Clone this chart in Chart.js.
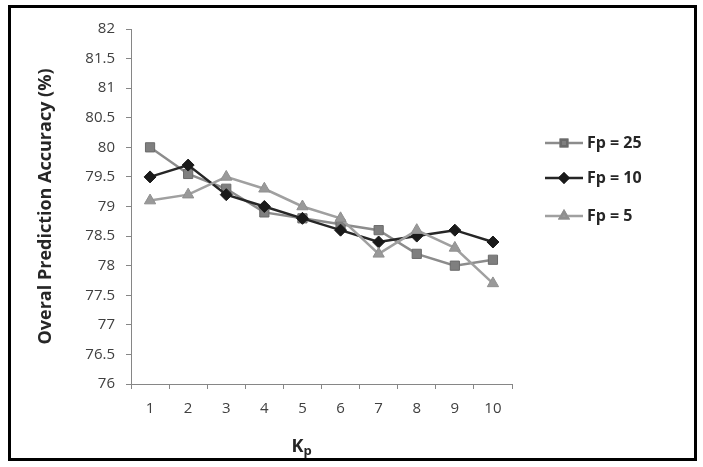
<!DOCTYPE html>
<html lang="en">
<head>
    <meta charset="UTF-8">
    <title>Overal Prediction Accuracy</title>
    <script src="https://cdn.jsdelivr.net/npm/chart.js"></script>
    <style>
        body {
            margin: 0;
            background: #fff;
        }

        /* black frame round the whole chart */
        .chart-box {
            position: absolute;
            left: 8px;
            top: 5px;
            width: 683px;
            height: 450px;
            border: 3px solid #000;
        }
    </style>
</head>
<body>
    <div class="chart-box">
        <canvas id="accChart" width="683" height="450"></canvas>
    </div>

    <script>
        // data
        const kpLabels = ['1', '2', '3', '4', '5', '6', '7', '8', '9', '10'];
        const fp25 = [80.0, 79.55, 79.3, 78.9, 78.8, 78.7, 78.6, 78.2, 78.0, 78.1];
        const fp10 = [79.5, 79.7, 79.2, 79.0, 78.8, 78.6, 78.4, 78.5, 78.6, 78.4];
        const fp5 = [79.1, 79.2, 79.5, 79.3, 79.0, 78.8, 78.2, 78.6, 78.3, 77.7];

        const FONT = '"Open Sans", Lato, sans-serif';

        // Excel style legend: line with marker, then label
        const lineLegend = {
            id: 'lineLegend',
            afterDraw(chart) {
                const ctx = chart.ctx;
                const x0 = chart.chartArea.right + 33;
                const rows = [135, 170, 208];
                chart.data.datasets.forEach((ds, i) => {
                    const y = rows[i];
                    ctx.save();
                    ctx.strokeStyle = ds.borderColor;
                    ctx.lineWidth = ds.borderWidth;
                    ctx.beginPath();
                    ctx.moveTo(x0, y);
                    ctx.lineTo(x0 + 38, y);
                    ctx.stroke();
                    Chart.helpers.drawPoint(ctx, {
                        pointStyle: ds.pointStyle,
                        radius: ds.pointRadius * 0.7,
                        borderWidth: 1
                    }, x0 + 19, y);
                    ctx.fillStyle = ds.pointBackgroundColor;
                    ctx.strokeStyle = ds.pointBorderColor;
                    ctx.fill();
                    ctx.stroke();
                    ctx.fillStyle = '#262626';
                    ctx.font = 'bold 16px ' + FONT;
                    ctx.textBaseline = 'middle';
                    ctx.fillText(ds.label, x0 + 42, y);
                    ctx.restore();
                });
            }
        };

        // x axis title with a subscript p
        const kpTitle = {
            id: 'kpTitle',
            afterDraw(chart) {
                const ctx = chart.ctx;
                const a = chart.chartArea;
                const x = a.left + (a.right - a.left) * 0.445;
                const y = 444;
                ctx.save();
                ctx.fillStyle = '#262626';
                ctx.textBaseline = 'alphabetic';
                ctx.font = 'bold 18px ' + FONT;
                ctx.fillText('K', x - 9, y);
                const w = ctx.measureText('K').width;
                ctx.font = 'bold 13px ' + FONT;
                ctx.fillText('p', x - 9 + w, y + 3);
                ctx.restore();
            }
        };

        new Chart(document.getElementById('accChart'), {
            type: 'line',
            data: {
                labels: kpLabels,
                datasets: [{
                    label: 'Fp = 25',
                    data: fp25,
                    borderColor: '#8c8c8c',
                    borderWidth: 2.5,
                    pointStyle: 'rect',
                    pointRadius: 6.5,
                    pointBackgroundColor: '#7f7f7f',
                    pointBorderColor: '#6a6a6a',
                    pointBorderWidth: 1,
                    order: 3
                }, {
                    label: 'Fp = 10',
                    data: fp10,
                    borderColor: '#262626',
                    borderWidth: 2.5,
                    pointStyle: 'rectRot',
                    pointRadius: 6,
                    pointBackgroundColor: '#1a1a1a',
                    pointBorderColor: '#1a1a1a',
                    pointBorderWidth: 1,
                    order: 2
                }, {
                    label: 'Fp = 5',
                    data: fp5,
                    borderColor: '#a0a0a0',
                    borderWidth: 2.5,
                    pointStyle: 'triangle',
                    pointRadius: 6.5,
                    pointBackgroundColor: '#999999',
                    pointBorderColor: '#8f8f8f',
                    pointBorderWidth: 1,
                    order: 1
                }]
            },
            options: {
                responsive: false,
                animation: false,
                layout: {
                    padding: { top: 21, right: 182, bottom: 0, left: 0 }
                },
                plugins: {
                    legend: { display: false },
                    tooltip: { enabled: false }
                },
                scales: {
                    x: {
                        offset: true,
                        grid: {
                            offset: true,
                            drawOnChartArea: false,
                            tickLength: 5,
                            color: '#868686'
                        },
                        border: { color: '#868686' },
                        ticks: {
                            color: '#404040',
                            padding: 11,
                            font: { family: FONT, size: 15 }
                        },
                        afterFit(scale) { scale.height = 74; }
                    },
                    y: {
                        min: 76,
                        max: 82,
                        ticks: {
                            stepSize: 0.5,
                            color: '#404040',
                            padding: 11,
                            font: { family: FONT, size: 15 },
                            callback: (v) => String(v)
                        },
                        grid: {
                            drawOnChartArea: false,
                            tickLength: 5,
                            color: '#868686'
                        },
                        border: { color: '#868686' },
                        title: {
                            display: true,
                            text: 'Overal Prediction Accuracy (%)',
                            color: '#262626',
                            padding: { top: 24, bottom: 0 },
                            font: { family: FONT, size: 18, weight: 'bold' }
                        },
                        afterFit(scale) { scale.width = 120; }
                    }
                }
            },
            plugins: [lineLegend, kpTitle]
        });
    </script>
</body>
</html>
